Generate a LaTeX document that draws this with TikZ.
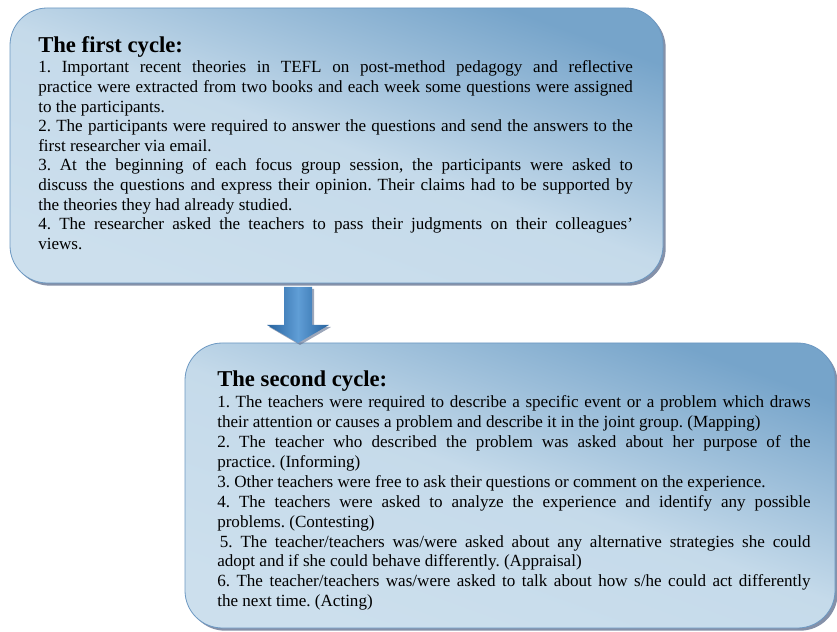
\documentclass[tikz,border=0pt]{standalone}
\usepackage{fontspec}
\setmainfont{Liberation Serif}
\usetikzlibrary{calc,shadows}
\definecolor{cycleDark}{RGB}{118,164,202}
\definecolor{cycleLight}{RGB}{204,223,237}
\definecolor{cycleEdge}{RGB}{108,152,194}
\definecolor{cycleShadow}{RGB}{92,108,140}
\definecolor{flowDark}{RGB}{38,98,158}
\definecolor{flowLight}{RGB}{96,158,214}

\tikzset{
  cyclebox/.style={draw=cycleEdge, line width=0.6pt, rounded corners=28pt,
    top color=cycleDark, bottom color=cycleLight, middle color=cycleLight!92!cycleDark,
    shading angle=-20,
    drop shadow={shadow xshift=2pt, shadow yshift=-2pt, opacity=0.75, fill=cycleShadow}},
  cyclehead/.style={anchor=base west, inner sep=0pt,
    font=\fontsize{17pt}{20pt}\selectfont\bfseries},
  cyclebody/.style={anchor=base west, inner sep=0pt, align=justify, text width=446pt,
    execute at begin node={\frenchspacing\hyphenpenalty=10000\exhyphenpenalty=10000\tolerance=10000}},
  flowarrow/.style={left color=flowDark, right color=flowDark, middle color=flowLight,
    drop shadow={shadow xshift=1.5pt, shadow yshift=-1.5pt, opacity=0.6, fill=cycleShadow}}
}

\begin{document}
\begin{tikzpicture}[x=0.75pt, y=0.75pt]
  \useasboundingbox (0,0) rectangle (837,631);
  % the two cycles
  \path[cyclebox] (10,348) rectangle (663,623);
  \path[cyclebox] (185,3) rectangle (835,288);

  \node[cyclehead] (firsthead) at (38,578) {The first cycle:};
  \node[cyclebody, font=\fontsize{12.8pt}{14.7pt}\selectfont] (firstbody) at (38,558)
    {1. Important recent theories in TEFL on post-method pedagogy and reflective\linebreak
     practice were extracted from two books and each week some questions were assigned\linebreak
     to the participants.\par
     2. The participants were required to answer the questions and send the answers to the\linebreak
     first researcher via email.\par
     3. At the beginning of each focus group session, the participants were asked to\linebreak
     discuss the questions and express their opinion. Their claims had to be supported by\linebreak
     the theories they had already studied.\par
     4. The researcher asked the teachers to pass their judgments on their colleagues’\linebreak
     views.};

  \node[cyclehead] (secondhead) at (217,244) {The second cycle:};
  \node[cyclebody, text width=445pt, font=\fontsize{12.8pt}{14.9pt}\selectfont] (secondbody) at (217,223)
    {1. The teachers were required to describe a specific event or a problem which draws\linebreak
     their attention or causes a problem and describe it in the joint group. (Mapping)\par
     2. The teacher who described the problem was asked about her purpose of the\linebreak
     practice. (Informing)\par
     3. Other teachers were free to ask their questions or comment on the experience.\par
     4. The teachers were asked to analyze the experience and identify any possible\linebreak
     problems. (Contesting)\par
     \hspace{2pt}5. The teacher/teachers was/were asked about any alternative strategies she could\linebreak
     adopt and if she could behave differently. (Appraisal)\par
     6. The teacher/teachers was/were asked to talk about how s/he could act differently\linebreak
     the next time. (Acting)};

  % arrow from the first cycle to the second
  \coordinate (flowtop) at (298,344);
  \coordinate (flowtip) at (298,288);
  \path[flowarrow] ($(flowtop)+(-14,0)$) -- ($(flowtop)+(14,0)$) -- ($(flowtip)+(14,18)$)
    -- ($(flowtip)+(31,18)$) -- (flowtip) -- ($(flowtip)+(-31,18)$) -- ($(flowtip)+(-14,18)$) -- cycle;
\end{tikzpicture}
\end{document}
